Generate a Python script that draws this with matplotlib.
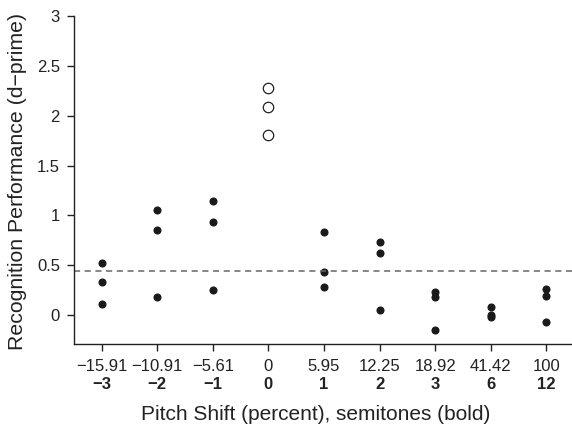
import matplotlib
matplotlib.use("Agg")
import matplotlib.pyplot as plt
import matplotlib.transforms as mtransforms

plt.rcParams['font.family'] = ['Liberation Sans', 'DejaVu Sans']

percent_labels = ["\u221215.91", "\u221210.91", "\u22125.61", "0", "5.95", "12.25", "18.92", "41.42", "100"]
semitone_labels = ["\u22123", "\u22122", "\u22121", "0", "1", "2", "3", "6", "12"]
scores = [
    [0.52, 0.33, 0.11],
    [1.05, 0.85, 0.18],
    [1.14, 0.93, 0.25],
    [2.28, 2.09, 1.81],
    [0.83, 0.43, 0.28],
    [0.73, 0.62, 0.05],
    [0.23, 0.18, -0.15],
    [0.08, 0.00, -0.02],
    [0.26, 0.19, -0.07],
]
baseline_index = 3
chance_level = 0.44
yticks = [0, 0.5, 1, 1.5, 2, 2.5, 3]
ytick_labels = ["0", "0.5", "1", "1.5", "2", "2.5", "3"]

fig = plt.figure(figsize=(5.72, 4.28), dpi=100)
ax = fig.add_axes([0.129, 0.196, 0.875, 0.767])

for i, vals in enumerate(scores):
    xs = [i] * len(vals)
    if i == baseline_index:
        ax.plot(xs, vals, linestyle='none', marker='o', markersize=7.5,
                markerfacecolor='white', markeredgecolor='#222222', markeredgewidth=0.9)
    else:
        ax.plot(xs, vals, linestyle='none', marker='o', markersize=4.8,
                markerfacecolor='#1a1a1a', markeredgecolor='#1a1a1a')

ax.axhline(chance_level, color='#666666', linestyle=(0, (4, 3)), linewidth=1.1)

ax.set_xlim(-0.5, 8.5)
ax.set_ylim(-0.29, 3)
ax.spines['top'].set_visible(False)
ax.spines['right'].set_visible(False)
for s in ['left', 'bottom']:
    ax.spines[s].set_color('#222222')
    ax.spines[s].set_linewidth(1.0)

ax.set_yticks(yticks)
ax.set_yticklabels(ytick_labels, fontsize=12, color='#222222')
ax.set_xticks(range(len(percent_labels)))
ax.set_xticklabels(percent_labels, fontsize=12, color='#222222')
ax.tick_params(axis='both', direction='out', length=5, width=1.0, color='#222222')
ax.tick_params(axis='x', pad=6)
ax.tick_params(axis='y', pad=5)

trans = mtransforms.blended_transform_factory(ax.transData, ax.transAxes)
for i, lab in enumerate(semitone_labels):
    ax.text(i, -0.122, lab, transform=trans, ha='center', va='center',
            fontsize=12, fontweight='bold', color='#222222')

ax.set_xlabel("Pitch Shift (percent), semitones (bold)", fontsize=15, color='#222222')
ax.xaxis.set_label_coords(0.483, -0.213)
ax.xaxis.label.set_va('center')
ax.set_ylabel("Recognition Performance (d\u2212prime)", fontsize=15.3, color='#222222')
ax.yaxis.set_label_coords(-0.112, 0.495)
ax.yaxis.label.set_va('center')

fig.savefig("out.png", dpi=100)
